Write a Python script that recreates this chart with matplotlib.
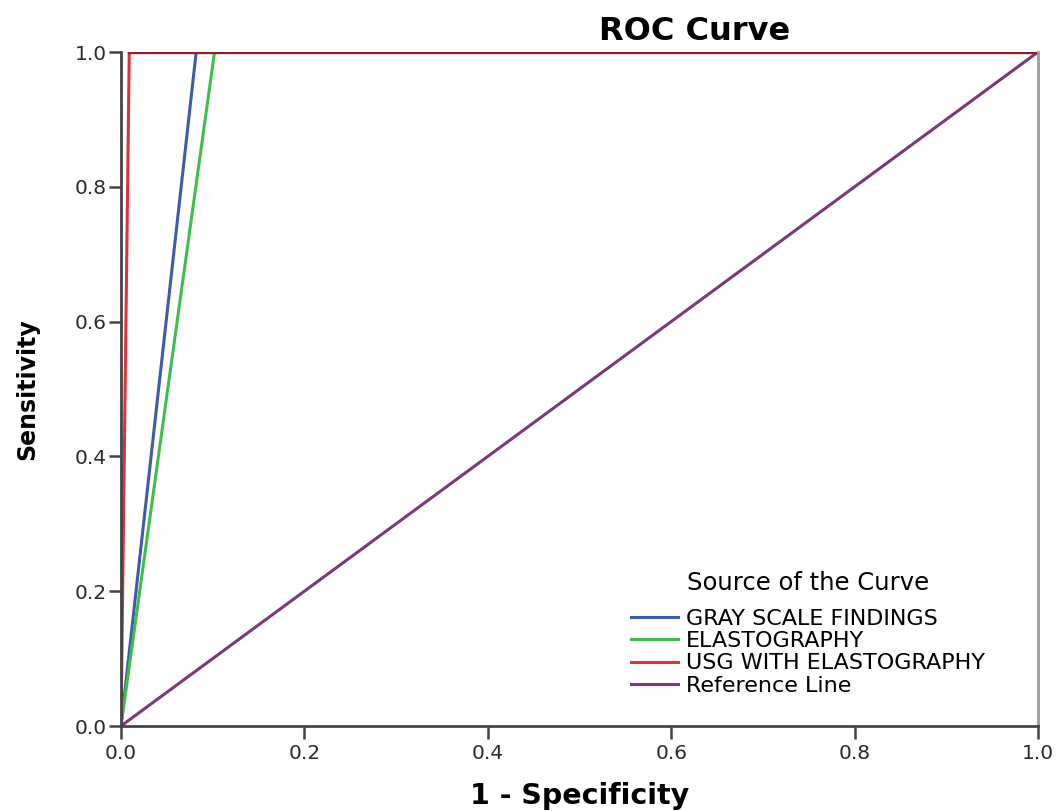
import matplotlib
matplotlib.use("Agg")
import matplotlib.pyplot as plt

plt.rcParams['font.family'] = ['DejaVu Sans']

# ROC curve points (1 - specificity, sensitivity)
gray_x = [0.0, 0.082, 1.0]
gray_y = [0.0, 1.0, 1.0]
elasto_x = [0.0, 0.102, 1.0]
elasto_y = [0.0, 1.0, 1.0]
usg_x = [0.0, 0.009, 1.0]
usg_y = [0.0, 1.0, 1.0]
ref_x = [0.0, 1.0]
ref_y = [0.0, 1.0]

labels = ["GRAY SCALE FINDINGS", "ELASTOGRAPHY", "USG WITH ELASTOGRAPHY", "Reference Line"]
colors = ["#3D5BA9", "#3DBE4B", "#E0303F", "#7A3A78"]
ticks = [0.0, 0.2, 0.4, 0.6, 0.8, 1.0]
tick_labels = ["0.0", "0.2", "0.4", "0.6", "0.8", "1.0"]

fig = plt.figure(figsize=(10.61, 8.11), dpi=100)
ax = fig.add_axes([121/1061, 1-726/811, (1038-121)/1061, (726-52)/811])

ax.plot(gray_x, gray_y, color=colors[0], lw=2.2, label=labels[0])
ax.plot(elasto_x, elasto_y, color=colors[1], lw=2.2, label=labels[1])
ax.plot(usg_x, usg_y, color=colors[2], lw=2.2, label=labels[2])
ax.plot(ref_x, ref_y, color=colors[3], lw=2.2, label=labels[3])
# top overlapped segment appears dark maroon
ax.plot([usg_x[1], 1.0], [1.0, 1.0], color="#8E1F2E", lw=2.4)

ax.set_xlim(0, 1)
ax.set_ylim(0, 1)
ax.set_xticks(ticks)
ax.set_xticklabels(tick_labels)
ax.set_yticks(ticks)
ax.set_yticklabels(tick_labels)
ax.tick_params(axis='both', labelsize=14.5, length=9, width=1.8, color="#444444", labelcolor="#2a2a2a", direction='out')
ax.tick_params(axis='x', pad=4)
ax.tick_params(axis='y', pad=1)

for s in ['left', 'bottom']:
    ax.spines[s].set_color("#444444")
    ax.spines[s].set_linewidth(2)
ax.spines['right'].set_color("#9A9A9A")
ax.spines['right'].set_linewidth(2)
ax.spines['top'].set_visible(False)

ax.set_xlabel("1 - Specificity", fontsize=20.5, fontweight='bold', labelpad=14)
ax.set_ylabel("Sensitivity", fontsize=17, fontweight='bold', labelpad=26)
fig.text(695/1061, 1-31/811, "ROC Curve", fontsize=23, fontweight='bold', ha='center', va='center')

handles, lbls = ax.get_legend_handles_labels()
leg = fig.legend(handles[:4], lbls[:4], title="Source of the Curve", frameon=False,
                 loc='upper left', bbox_to_anchor=(620/1061, 1-560/811),
                 fontsize=16, title_fontsize=17.5, handlelength=2.1, handletextpad=0.35,
                 labelspacing=0.1, borderpad=0)
leg._legend_box.sep = 10

fig.savefig("out.png", dpi=100)
